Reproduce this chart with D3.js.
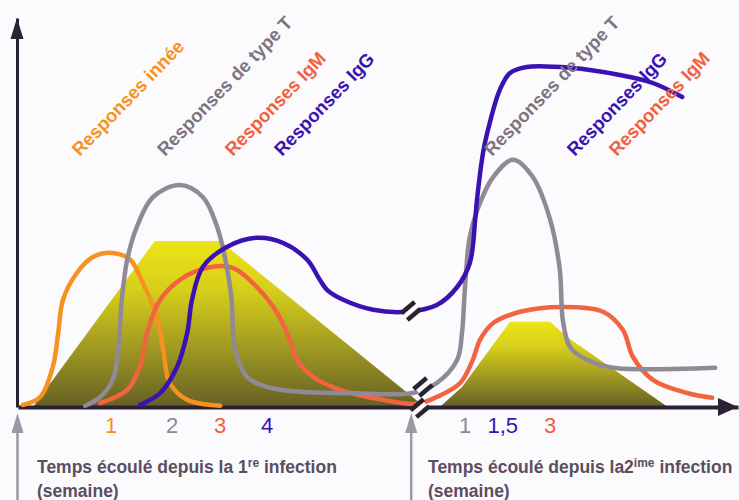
<!DOCTYPE html>
<html>
<head>
<meta charset="utf-8">
<title></title>
<script src="https://d3js.org/d3.v7.min.js"></script>
<style>
  body { margin: 0; background: #fbfafd; }
  svg { display: block; font-family: "Liberation Sans", Arial, Helvetica, sans-serif; }
</style>
</head>
<body>
<svg id="chart" width="739" height="500"></svg>
<script>
// time units on x (6 px each), response level on y (4 px each)
var innee = [[0.8,0.5],[3.7,2.5],[5.8,10],[6.7,18.5],[7.5,26.8],[9.8,33.5],[12.5,37.5],[15.8,38.5],
  [18.7,36.8],[20.8,31],[23.2,22.5],[24.2,14.3],[25.3,6],[28.2,1.8],[33.7,0.3]]

var typeT = [[11.2,0.3],[13.7,2.5],[15.8,6.8],[16.7,14.3],[17.3,26.8],[18.2,36.8],[19.8,45],[22.5,52.5],
  [27,55.5],[30.8,52.5],[33.2,45],[34.8,35],[35.6,26.8],[36.2,14.3],[38.2,7.5],[41.5,5],[47,3.8],
  [55.3,3.5],[65.8,3.5],[69.8,6],[73.2,11.8],[74,18.5],[74.5,30],[75.3,42.5],[77,51],[79.2,57.5],
  [82.5,61.8],[85.8,57.5],[88.7,46.8],[90.3,34.3],[90.8,21.8],[92,15],[94.8,11.8],[99.2,9.8],[116.2,9.8]]

var igm = [[13.7,1],[18.2,4.3],[20.3,10],[21.5,18.5],[23.7,26.8],[27,31.8],[31.5,34.8],[35.8,34.8],
  [39.8,30],[43.2,23.5],[45.3,16.8],[46.5,11.8],[49.2,7.5],[53.7,4.3],[60.8,1.8],[66.5,0.8],
  [69.8,2.5],[73.7,6],[75.8,11.8],[77,16.8],[79.2,21],[83.7,23.8],[90.8,25],[97.5,23.8],
  [100.8,19.3],[102.5,12.5],[105.8,6.8],[111.5,3.5],[115.7,2.3]]

var igg = [[20.3,0.5],[23.7,3.5],[26.5,10],[28.2,18.5],[29,26.8],[30.8,35],[34.8,40],[39.8,42.3],
  [44.2,41],[48.2,36.8],[50.3,31.8],[51.5,29.3],[54.2,26.8],[59.2,24.3],[64.8,23.8],[69.8,25.5],
  [73.2,30],[75.3,36],[76.2,46.8],[76.5,51.8],[77.5,63.5],[78.2,68.5],[80.3,79.3],[82,83.5],
  [84.8,85],[92,84.8],[100.3,83],[105.8,81],[110.7,77.5]]

// infection load (yellow areas)
var charge1 = [[2.5,0],[22.8,41.5],[33.7,41.5],[67.8,0]]
var charge2 = [[70.3,0],[74,5],[82,21.3],[88.7,21.3],[91.5,17.5],[108.3,0]]

var labels = [
  {text: "Responses innée", x: 10.3, c: "#f6921e"},
  {text: "Responses de type T", x: 24.5, c: "#7b7581"},
  {text: "Responses IgM", x: 35.8, c: "#f2603f"},
  {text: "Responses IgG", x: 44, c: "#3a12b2"},
  {text: "Responses de type T", x: 79, c: "#7b7581"},
  {text: "Responses IgG", x: 92.8, c: "#3a12b2"},
  {text: "Responses IgM", x: 99.8, c: "#f2603f"}
]
var labelY = 62.5

var ticks = [
  {t: "1", x: 15.5, c: "#f6921e"}, {t: "2", x: 25.7, c: "#8e8996"},
  {t: "3", x: 33.7, c: "#f2603f"}, {t: "4", x: 41.5, c: "#3a12b2"},
  {t: "1", x: 74.5, c: "#8e8996"}, {t: "1,5", x: 80.8, c: "#3a12b2"},
  {t: "3", x: 88.7, c: "#f2603f"}
]

var infections = [0, 66.2]
var breaks = [[65.5, 24], [67.5, 5], [67, -0.3]]

var svg = d3.select("#chart")
var x = d3.scaleLinear().domain([0, 120]).range([18, 738])
var y = d3.scaleLinear().domain([0, 97.25]).range([407, 18])

svg.append("rect").attr("width", 739).attr("height", 500).attr("fill", "#fbfafd")

// gradient for the yellow areas
var grad = svg.append("defs").append("linearGradient")
  .attr("id", "jaune").attr("x1", 0).attr("y1", 0).attr("x2", 0).attr("y2", 1)
grad.append("stop").attr("offset", "0%").attr("stop-color", "#ece417")
grad.append("stop").attr("offset", "30%").attr("stop-color", "#d6ce1a")
grad.append("stop").attr("offset", "65%").attr("stop-color", "#9f9822")
grad.append("stop").attr("offset", "100%").attr("stop-color", "#656024")

var area = d3.area().x(function(d){ return x(d[0]) }).y0(y(0)).y1(function(d){ return y(d[1]) })
svg.selectAll(".charge")
  .data([charge1, charge2])
  .enter().append("path")
  .attr("d", area)
  .attr("fill", "url(#jaune)")

// axes
var xAxis = svg.append("g").attr("transform", "translate(0," + y(0) + ")")
  .call(d3.axisBottom(x).tickValues([]).tickSizeOuter(0))
xAxis.select(".domain").attr("stroke", "#2b2233").attr("stroke-width", 4)
var yAxis = svg.append("g").attr("transform", "translate(" + (x(0) - 1) + ",0)")
  .call(d3.axisLeft(y).tickValues([]).tickSizeOuter(0))
yAxis.select(".domain").attr("stroke", "#2b2233").attr("stroke-width", 3)

svg.append("path")
  .attr("d", "M" + (x(0) - 1) + "," + y(97.25) + "l-6.5,21l13,0z")
  .attr("fill", "#2b2233")
svg.append("path")
  .attr("d", "M" + x(120) + "," + y(0) + "l-20,-9l0,18z")
  .attr("fill", "#2b2233")

// curves
var line = d3.line()
  .x(function(d){ return x(d[0]) })
  .y(function(d){ return y(d[1]) })
  .curve(d3.curveCatmullRom.alpha(0.5))

var series = [
  {data: innee, c: "#f6921e"},
  {data: igm, c: "#f2643f"},
  {data: typeT, c: "#8f8a95"},
  {data: igg, c: "#3a12b2"}
]
svg.selectAll(".courbe")
  .data(series)
  .enter().append("path")
  .attr("d", function(d){ return line(d.data) })
  .attr("fill", "none")
  .attr("stroke", function(d){ return d.c })
  .attr("stroke-width", 4.5)
  .attr("stroke-linecap", "round")

// break marks
var dir = [Math.cos(40 * Math.PI / 180), -Math.sin(40 * Math.PI / 180)]
var perp = [-dir[1], dir[0]]
breaks.forEach(function(b){
  var cx = x(b[0]), cy = y(b[1])
  svg.append("line")
    .attr("x1", cx - 7 * dir[0]).attr("y1", cy - 7 * dir[1])
    .attr("x2", cx + 7 * dir[0]).attr("y2", cy + 7 * dir[1])
    .attr("stroke", "#fbfafd").attr("stroke-width", 5)
  ;[-4.5, 4.5].forEach(function(o){
    var px = cx + o * perp[0], py = cy + o * perp[1]
    svg.append("line")
      .attr("x1", px - 8.5 * dir[0]).attr("y1", py - 8.5 * dir[1])
      .attr("x2", px + 8.5 * dir[0]).attr("y2", py + 8.5 * dir[1])
      .attr("stroke", "#2a2230").attr("stroke-width", 4.5)
  })
})

// rotated labels
svg.selectAll(".lab")
  .data(labels)
  .enter().append("text")
  .attr("transform", function(d){ return "translate(" + x(d.x) + "," + y(labelY) + ") rotate(-46)" })
  .attr("fill", function(d){ return d.c })
  .attr("font-size", 18.5)
  .attr("font-weight", "bold")
  .text(function(d){ return d.text })

// tick numbers
svg.selectAll(".tick-lab")
  .data(ticks)
  .enter().append("text")
  .attr("x", function(d){ return x(d.x) })
  .attr("y", 433)
  .attr("text-anchor", "middle")
  .attr("fill", function(d){ return d.c })
  .attr("font-size", 22)
  .text(function(d){ return d.t })

// infection arrows
infections.forEach(function(t){
  var ax = x(t) - 0.5
  if (t > 0) ax = x(t) - 4
  svg.append("line").attr("x1", ax).attr("x2", ax).attr("y1", 500).attr("y2", 428)
    .attr("stroke", "#9d98a3").attr("stroke-width", 2.5)
  svg.append("path").attr("d", "M" + ax + ",413l-6,20l12,0z").attr("fill", "#9d98a3")
})

// captions
function caption(cx, num, sup) {
  var t = svg.append("text").attr("x", cx).attr("y", 473)
    .attr("fill", "#5b4e5e").attr("font-size", 17.5).attr("font-weight", "bold")
  t.append("tspan").text("Temps écoulé depuis la" + num)
  t.append("tspan").attr("dy", -6).attr("font-size", 12).text(sup)
  t.append("tspan").attr("dy", 6).text(" infection")
  svg.append("text").attr("x", cx).attr("y", 497)
    .attr("fill", "#5b4e5e").attr("font-size", 17.5).attr("font-weight", "bold")
    .text("(semaine)")
}
caption(37, " 1", "re")
caption(428, "2", "ime")
</script>
</body>
</html>
